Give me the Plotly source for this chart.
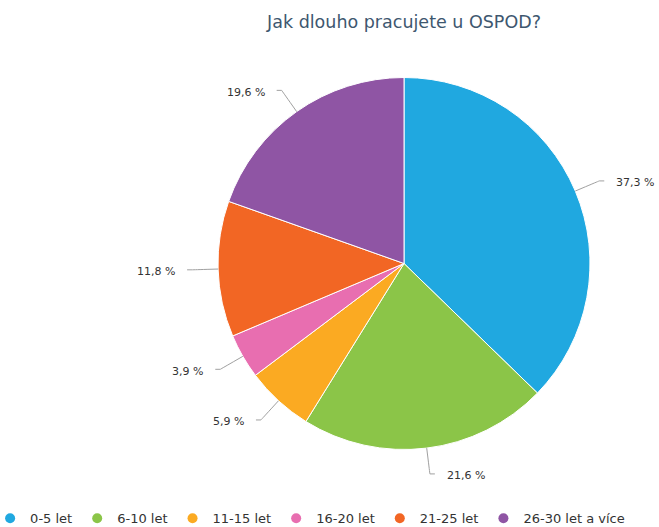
import math
import plotly.graph_objects as go

# ---- data ----
title_text = "Jak dlouho pracujete u OSPOD?"
categories = ["0-5 let", "6-10 let", "11-15 let", "16-20 let", "21-25 let", "26-30 let a více"]
values = [37.3, 21.6, 5.9, 3.9, 11.8, 19.6]
colors = ["#20a8e0", "#8bc548", "#fbaa22", "#e86eb0", "#f26624", "#8f55a4"]

# ---- layout constants (pixels) ----
W, H = 659, 527
CX, CY, R = 404, 263.5, 186
LABEL_R = 212
FONT = "DejaVu Sans"


def px(x):
    return x / W


def py(y):
    return 1 - y / H


fig = go.Figure()
fig.add_trace(go.Pie(
    labels=categories, values=values, sort=False, direction="clockwise", rotation=0,
    marker=dict(colors=colors, line=dict(color="white", width=1)),
    textinfo="none", hoverinfo="label+percent", showlegend=False,
    domain=dict(x=[px(CX - R), px(CX + R)], y=[py(CY + R), py(CY - R)]),
))

# legend entries with round markers
for cat, col in zip(categories, colors):
    fig.add_trace(go.Scatter(x=[None], y=[None], mode="markers", name=cat,
                             marker=dict(color=col, size=10, symbol="circle"),
                             showlegend=True))

# data labels with connectors, positioned from the slice angles
total = sum(values)
cum = 0.0
shapes = []
annotations = []
for v in values:
    mid = (cum + v / 2) / total
    cum += v
    th = 2 * math.pi * mid
    ux, uy = math.sin(th), -math.cos(th)
    right = ux >= 0
    ax, ay = CX + LABEL_R * ux, CY + LABEL_R * uy
    q4 = (CX + R * ux, CY + R * uy)
    q2 = (CX + (R + 11) * ux, CY + (R + 11) * uy)
    q3 = (2 * q2[0] - q4[0], 2 * q2[1] - q4[1])
    sx = ax + (5 if right else -5)
    path = (f"M {px(sx)},{py(ay)} L {px(ax)},{py(ay)} "
            f"C {px(ax)},{py(ay)} {px(q3[0])},{py(q3[1])} {px(q2[0])},{py(q2[1])} "
            f"L {px(q4[0])},{py(q4[1])}")
    shapes.append(dict(type="path", xref="paper", yref="paper", path=path,
                       line=dict(color="#a0a0a0", width=1)))
    txt = f"{v:.1f}".replace(".", ",") + " %"
    annotations.append(dict(
        x=px(ax + (15 if right else -15)), y=py(ay + 2), xref="paper", yref="paper",
        text=txt, showarrow=False, xanchor="left" if right else "right", yanchor="middle",
        font=dict(family=FONT, size=11, color="#333333"),
    ))

fig.update_layout(
    width=W, height=H,
    margin=dict(l=0, r=0, t=0, b=0, autoexpand=False),
    paper_bgcolor="white", plot_bgcolor="white",
    xaxis=dict(visible=False), yaxis=dict(visible=False),
    title=dict(text=title_text, x=px(CX), xref="paper", xanchor="center",
               y=1 - 22 / H, yref="container", yanchor="middle",
               font=dict(family=FONT, size=17.5, color="#3e576f")),
    legend=dict(orientation="h", x=-0.015, xanchor="left", y=-0.012, yanchor="bottom",
                font=dict(family=FONT, size=13, color="#333333"),
                bgcolor="rgba(0,0,0,0)", itemwidth=30),
    shapes=shapes,
    annotations=annotations,
    showlegend=True,
)

fig.write_html("out.html", config={"displayModeBar": False},
               post_script="document.body.style.margin='0px';")
